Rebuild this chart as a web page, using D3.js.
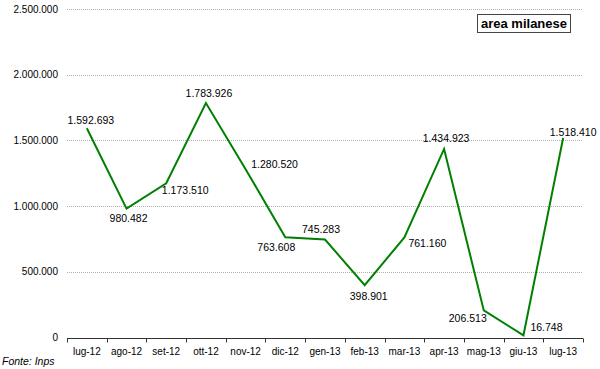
<!DOCTYPE html>
<html>
<head>
<meta charset="utf-8">
<script src="https://cdn.jsdelivr.net/npm/d3@7"></script>
<style>
  html, body { margin: 0; padding: 0; background: #fff; }
  #chart { width: 600px; height: 369px; }
  text { font-family: "Liberation Sans", Arial, sans-serif; fill: #000; }
</style>
</head>
<body>
<div id="chart"></div>
<script>
// Monthly values, area milanese (source: Inps)
const months = ["lug-12", "ago-12", "set-12", "ott-12", "nov-12", "dic-12", "gen-13",
  "feb-13", "mar-13", "apr-13", "mag-13", "giu-13", "lug-13"];
const values = [1592693, 980482, 1173510, 1783926, 1280520, 763608, 745283,
  398901, 761160, 1434923, 206513, 16748, 1518410];
const yTicks = [0, 500000, 1000000, 1500000, 2000000, 2500000];

// where each value label sits relative to its point (dx, dy)
const labelOffsets = [[4, -8], [2, 10], [19, 7], [3, -10], [29, -5], [-9, 10], [-4, -10],
  [4, 11], [23, 6], [2, -11], [-16, 8], [23, -8], [10, -6]];

const width = 600, height = 369;
const margin = { top: 9, right: 17, bottom: 31.5, left: 67 };

const fmt = d3.formatLocale({ decimal: ",", thousands: ".", grouping: [3], currency: ["", "€"] }).format(",d");

const svg = d3.select("#chart").append("svg")
  .attr("width", width)
  .attr("height", height);

const x = d3.scaleBand()
  .domain(months)
  .range([margin.left, width - margin.right])
  .padding(0);

const y = d3.scaleLinear()
  .domain([0, 2500000])
  .range([height - margin.bottom, margin.top]);

// gridlines
svg.append("g")
  .selectAll("line")
  .data(yTicks.filter(d => d > 0))
  .join("line")
  .attr("x1", margin.left)
  .attr("x2", width - margin.right)
  .attr("y1", d => Math.round(y(d)) + 0.5)
  .attr("y2", d => Math.round(y(d)) + 0.5)
  .attr("stroke", "#b0b0b0")
  .attr("stroke-width", 1)
  .attr("stroke-dasharray", "1,1");

// y labels
svg.append("g")
  .selectAll("text")
  .data(yTicks)
  .join("text")
  .attr("x", 58)
  .attr("y", d => y(d))
  .attr("dy", "0.35em")
  .attr("text-anchor", "end")
  .style("font-size", "10px")
  .text(d => fmt(d));

// x axis
const xAxis = svg.append("g")
  .attr("transform", `translate(0,${Math.round(y(0)) + 0.5})`)
  .call(d3.axisBottom(x).tickSize(0).tickPadding(9));
xAxis.select(".domain").attr("stroke", "#333").attr("d", `M${margin.left},0H${width - margin.right}`);
xAxis.selectAll("text").style("font-size", "10px").style("font-family", "'Liberation Sans', Arial, sans-serif").attr("fill", "#000");

// category boundary ticks
const bounds = months.map(m => x(m)).concat([x(months[months.length - 1]) + x.bandwidth()]);
xAxis.append("g")
  .selectAll("line")
  .data(bounds)
  .join("line")
  .attr("x1", d => Math.round(d) + 0.5)
  .attr("x2", d => Math.round(d) + 0.5)
  .attr("y1", 0)
  .attr("y2", 4)
  .attr("stroke", "#333");

// the line
const cx = (d, i) => x(months[i]) + x.bandwidth() / 2;
const line = d3.line()
  .x(cx)
  .y(d => y(d));

svg.append("path")
  .datum(values)
  .attr("fill", "none")
  .attr("stroke", "#008000")
  .attr("stroke-width", 2)
  .attr("stroke-linejoin", "miter")
  .attr("d", line);

// value labels
svg.append("g")
  .selectAll("text")
  .data(values)
  .join("text")
  .attr("x", (d, i) => cx(d, i) + labelOffsets[i][0])
  .attr("y", (d, i) => y(d) + labelOffsets[i][1])
  .attr("dy", "0.35em")
  .attr("text-anchor", "middle")
  .style("font-size", "10.5px")
  .text(d => fmt(d));

// legend box
svg.append("rect")
  .attr("x", 477.5)
  .attr("y", 14.5)
  .attr("width", 93)
  .attr("height", 18)
  .attr("fill", "#fff")
  .attr("stroke", "#444")
  .attr("stroke-width", 1);

svg.append("text")
  .attr("x", 524)
  .attr("y", 23.5)
  .attr("dy", "0.35em")
  .attr("text-anchor", "middle")
  .style("font-size", "13px")
  .style("font-weight", "bold")
  .text("area milanese");

// source
svg.append("text")
  .attr("x", 2)
  .attr("y", 361)
  .attr("dy", "0.35em")
  .style("font-size", "10.5px")
  .style("font-style", "italic")
  .text("Fonte: Inps");
</script>
</body>
</html>
